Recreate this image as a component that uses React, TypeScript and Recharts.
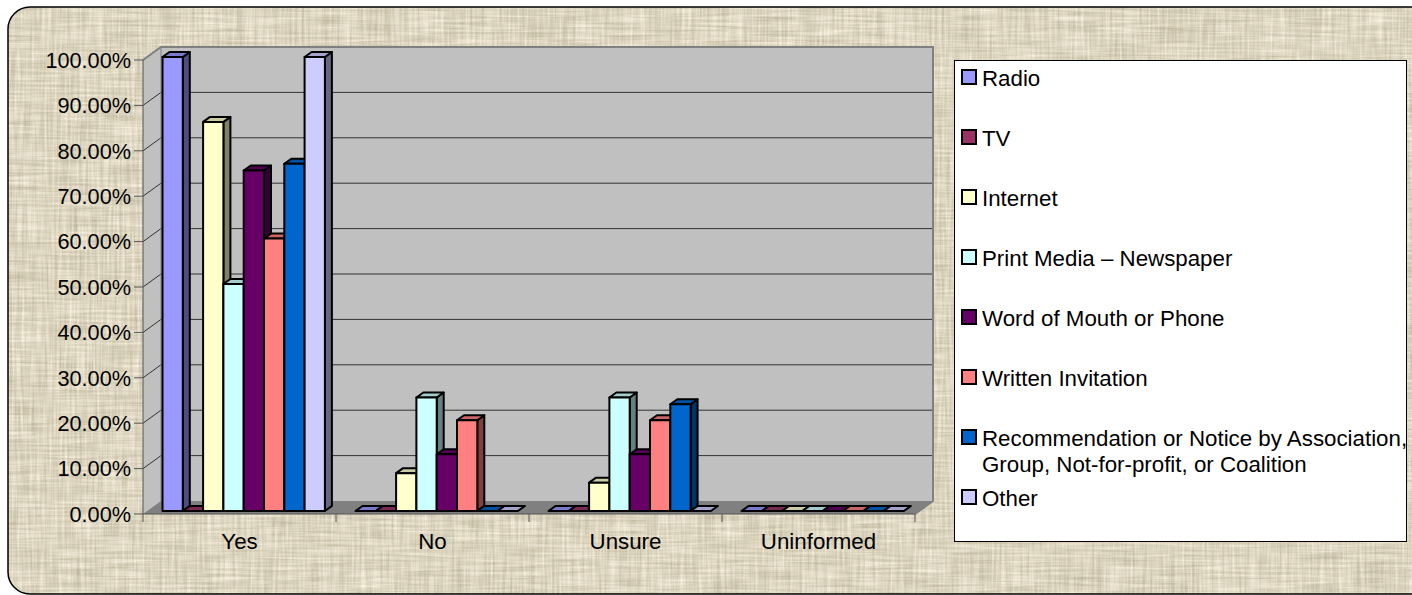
import { BarChart, Bar, XAxis, YAxis } from 'recharts';

const categories = ['Yes', 'No', 'Unsure', 'Uninformed'];
const yTicks = [0, 10, 20, 30, 40, 50, 60, 70, 80, 90, 100];

const seriesNames = [
  'Radio',
  'TV',
  'Internet',
  'Print Media – Newspaper',
  'Word of Mouth or Phone',
  'Written Invitation',
  'Recommendation or Notice by Association, Group, Not-for-profit, or Coalition',
  'Other',
];
const radio = [100, 0, 0, 0];
const tv = [0, 0, 0, 0];
const internet = [85.7, 8.33, 6.25, 0];
const printMedia = [50, 25, 25, 0];
const wordOfMouth = [75, 12.5, 12.5, 0];
const written = [60, 20, 20, 0];
const recommendation = [76.5, 0, 23.5, 0];
const other = [100, 0, 0, 0];
const seriesValues = [radio, tv, internet, printMedia, wordOfMouth, written, recommendation, other];

const colors = ['#9999FF', '#993366', '#FFFFCC', '#CCFFFF', '#660066', '#FF8080', '#0066CC', '#CCCCFF'];
const topColors = ['#7A7ACC', '#7A2952', '#CCCCA3', '#A3CCCC', '#520052', '#CC6666', '#0052A3', '#A3A3CC'];
const sideColors = ['#4D4D80', '#4D1A33', '#808066', '#668080', '#330033', '#804040', '#003366', '#666680'];

const data = categories.map((name, i) => {
  const row: any = { name };
  seriesNames.forEach((s, j) => {
    row[s] = seriesValues[j][i];
  });
  return row;
});

// plot rectangle of the front of the 3D box
const LEFT = 143;
const RIGHT = 915;
const TOP = 60;
const BOTTOM = 514;
const DEPTH_X = 18;
const DEPTH_Y = 13;

const FONT = '"Liberation Sans", Arial, sans-serif';

// the walls and floor behind the bars
function Walls() {
  const yOf = (v: number) => BOTTOM - ((BOTTOM - TOP) * v) / 100;
  const step = (RIGHT - LEFT) / categories.length;
  return (
    <g>
      <polygon
        points={`${LEFT + DEPTH_X},${TOP - DEPTH_Y} ${RIGHT + DEPTH_X},${TOP - DEPTH_Y} ${RIGHT + DEPTH_X},${BOTTOM - DEPTH_Y} ${LEFT + DEPTH_X},${BOTTOM - DEPTH_Y}`}
        fill="#C0C0C0"
      />
      <polygon
        points={`${LEFT},${TOP} ${LEFT + DEPTH_X},${TOP - DEPTH_Y} ${LEFT + DEPTH_X},${BOTTOM - DEPTH_Y} ${LEFT},${BOTTOM}`}
        fill="#C0C0C0"
      />
      <polygon
        points={`${LEFT},${BOTTOM} ${LEFT + DEPTH_X},${BOTTOM - DEPTH_Y} ${RIGHT + DEPTH_X},${BOTTOM - DEPTH_Y} ${RIGHT},${BOTTOM}`}
        fill="#808080"
      />
      {yTicks.slice(1).map((v) => (
        <polyline
          key={v}
          points={`${LEFT},${yOf(v)} ${LEFT + DEPTH_X},${yOf(v) - DEPTH_Y} ${RIGHT + DEPTH_X},${yOf(v) - DEPTH_Y}`}
          fill="none"
          stroke="#333"
          strokeWidth={1}
        />
      ))}
      <polyline
        points={`${LEFT},${TOP} ${LEFT + DEPTH_X},${TOP - DEPTH_Y} ${RIGHT + DEPTH_X},${TOP - DEPTH_Y} ${RIGHT + DEPTH_X},${BOTTOM - DEPTH_Y} ${RIGHT},${BOTTOM}`}
        fill="none"
        stroke="#808080"
        strokeWidth={2}
      />
      <line x1={LEFT + DEPTH_X} y1={TOP - DEPTH_Y} x2={LEFT + DEPTH_X} y2={BOTTOM - DEPTH_Y} stroke="#808080" />
      <line x1={LEFT} y1={TOP} x2={LEFT} y2={BOTTOM} stroke="#555" strokeWidth={1} />
      <line x1={LEFT} y1={BOTTOM} x2={RIGHT} y2={BOTTOM} stroke="#555" strokeWidth={1} />
      {categories.concat('').map((_, i) => (
        <line
          key={i}
          x1={LEFT + step * i}
          y1={BOTTOM}
          x2={LEFT + step * i}
          y2={BOTTOM + 8}
          stroke="#555"
          strokeWidth={1}
        />
      ))}
    </g>
  );
}

function Bar3D(props: any) {
  const { x, y, width, height, index } = props;
  const dx = 4.5;
  const dy = -3;
  const ox = 7;
  const oy = -5;
  const i = props.seriesIndex;
  const l = x + dx;
  const r = l + width;
  const t = y + dy;
  const b = t + height;
  return (
    <g key={index} stroke="#000" strokeWidth={2} strokeLinejoin="round">
      {height > 0 && (
        <polygon points={`${r},${t} ${r + ox},${t + oy} ${r + ox},${b + oy} ${r},${b}`} fill={sideColors[i]} />
      )}
      <polygon points={`${l},${t} ${l + ox},${t + oy} ${r + ox},${t + oy} ${r},${t}`} fill={topColors[i]} />
      {height > 0 && <rect x={l} y={t} width={width} height={height} fill={colors[i]} />}
    </g>
  );
}

function Backdrop() {
  return (
    <svg width={1412} height={595} style={{ position: 'absolute', left: 0, top: 0 }}>
      <defs>
        <filter id="weave" x="0" y="0" width="100%" height="100%" colorInterpolationFilters="sRGB">
          <feTurbulence type="fractalNoise" baseFrequency="0.02 0.4" numOctaves={2} seed={3} result="h" />
          <feTurbulence type="fractalNoise" baseFrequency="0.4 0.02" numOctaves={2} seed={8} result="v" />
          <feComposite in="h" in2="v" operator="arithmetic" k1={0} k2={0.5} k3={0.5} k4={0} />
          <feColorMatrix
            type="matrix"
            values="0.4 0 0 0 0.665  0.4 0 0 0 0.635  0.45 0 0 0 0.525  0 0 0 0 1"
          />
        </filter>
        <clipPath id="card">
          <rect x={8} y={7} width={1430} height={587} rx={22} />
        </clipPath>
      </defs>
      <g clipPath="url(#card)">
        <rect x={0} y={0} width={1412} height={595} filter="url(#weave)" />
      </g>
      <rect x={8} y={7} width={1430} height={587} rx={22} fill="none" stroke="#000" strokeWidth={1.5} />
    </svg>
  );
}

function LegendBox() {
  return (
    <div
      style={{
        position: 'absolute',
        left: 954,
        top: 60,
        width: 451,
        height: 480,
        background: '#fff',
        border: '1px solid #000',
        fontFamily: FONT,
        fontSize: 22.3,
        lineHeight: '26px',
        color: '#000',
      }}
    >
      {seriesNames.map((name, i) => (
        <div key={name} style={{ position: 'absolute', left: 0, top: 4 + i * 60, width: 455, height: 60 }}>
          <span
            style={{
              position: 'absolute',
              left: 6,
              top: 4,
              width: 12,
              height: 12,
              background: colors[i],
              border: '2px solid #000',
            }}
          />
          <span style={{ position: 'absolute', left: 27, top: 1, width: 432 }}>{name}</span>
        </div>
      ))}
    </div>
  );
}

export default function App() {
  return (
    <div style={{ position: 'absolute', left: 0, top: 0, width: 1412, height: 595, overflow: 'hidden', background: '#fff' }}>
      <Backdrop />
      <div style={{ position: 'absolute', left: 0, top: 0 }}>
        <BarChart
          width={1412}
          height={595}
          data={data}
          margin={{ top: TOP, right: 1412 - RIGHT, bottom: 0, left: 0 }}
          barSize={20.3}
          barGap={0}
        >
          <Walls />
          <XAxis
            dataKey="name"
            height={595 - BOTTOM}
            axisLine={false}
            tickLine={false}
            tickMargin={13}
            tick={{ fill: '#000', fontSize: 22.3, fontFamily: FONT }}
          />
          <YAxis
            width={LEFT}
            domain={[0, 100]}
            ticks={yTicks}
            interval={0}
            axisLine={false}
            tickSize={9}
            tickMargin={3}
            tickLine={{ stroke: '#555' }}
            tickFormatter={(v: number) => `${v.toFixed(2)}%`}
            tick={{ fill: '#000', fontSize: 21.7, fontFamily: FONT }}
          />
          {seriesNames.map((s, i) => (
            <Bar
              key={s}
              dataKey={s}
              isAnimationActive={false}
              shape={(p: any) => <Bar3D {...p} seriesIndex={i} />}
            />
          ))}
        </BarChart>
      </div>
      <LegendBox />
    </div>
  );
}
